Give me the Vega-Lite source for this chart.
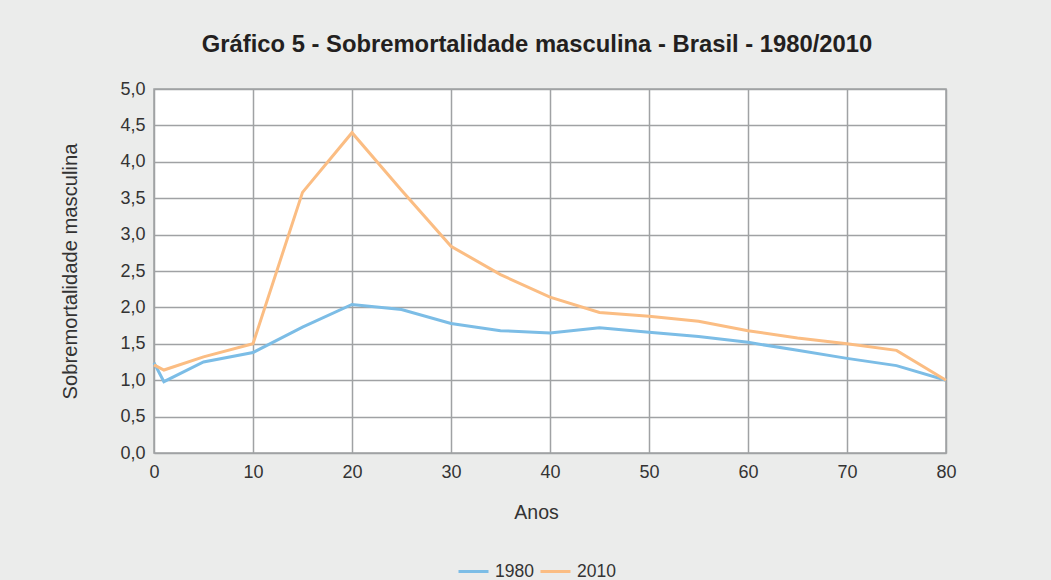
{
  "$schema": "https://vega.github.io/schema/vega-lite/v6.json",
  "width": 792,
  "height": 364,
  "autosize": {"type": "none"},
  "padding": {"left": 154, "top": 89, "right": 105, "bottom": 127},
  "background": "#ebeceb",
  "title": {
    "text": "Gráfico 5 - Sobremortalidade masculina - Brasil - 1980/2010",
    "font": "Liberation Sans",
    "fontSize": 23.8,
    "fontWeight": "bold",
    "color": "#231f20",
    "anchor": "middle",
    "frame": "group",
    "dx": -13,
    "offset": 23
  },
  "data": {
    "values": [
      {"idade": 0, "ano": "1980", "valor": 1.24},
      {"idade": 1, "ano": "1980", "valor": 0.98},
      {"idade": 5, "ano": "1980", "valor": 1.25},
      {"idade": 10, "ano": "1980", "valor": 1.38},
      {"idade": 15, "ano": "1980", "valor": 1.73},
      {"idade": 20, "ano": "1980", "valor": 2.04},
      {"idade": 25, "ano": "1980", "valor": 1.97},
      {"idade": 30, "ano": "1980", "valor": 1.78},
      {"idade": 35, "ano": "1980", "valor": 1.68},
      {"idade": 40, "ano": "1980", "valor": 1.65},
      {"idade": 45, "ano": "1980", "valor": 1.72},
      {"idade": 50, "ano": "1980", "valor": 1.66},
      {"idade": 55, "ano": "1980", "valor": 1.6},
      {"idade": 60, "ano": "1980", "valor": 1.52},
      {"idade": 65, "ano": "1980", "valor": 1.41},
      {"idade": 70, "ano": "1980", "valor": 1.3},
      {"idade": 75, "ano": "1980", "valor": 1.2},
      {"idade": 80, "ano": "1980", "valor": 1.0},
      {"idade": 0, "ano": "2010", "valor": 1.21},
      {"idade": 1, "ano": "2010", "valor": 1.14},
      {"idade": 5, "ano": "2010", "valor": 1.32},
      {"idade": 10, "ano": "2010", "valor": 1.5},
      {"idade": 15, "ano": "2010", "valor": 3.58},
      {"idade": 20, "ano": "2010", "valor": 4.4},
      {"idade": 25, "ano": "2010", "valor": 3.61},
      {"idade": 30, "ano": "2010", "valor": 2.84},
      {"idade": 35, "ano": "2010", "valor": 2.45},
      {"idade": 40, "ano": "2010", "valor": 2.14},
      {"idade": 45, "ano": "2010", "valor": 1.93},
      {"idade": 50, "ano": "2010", "valor": 1.88},
      {"idade": 55, "ano": "2010", "valor": 1.81},
      {"idade": 60, "ano": "2010", "valor": 1.68},
      {"idade": 65, "ano": "2010", "valor": 1.58},
      {"idade": 70, "ano": "2010", "valor": 1.5},
      {"idade": 75, "ano": "2010", "valor": 1.41},
      {"idade": 80, "ano": "2010", "valor": 1.0}
    ]
  },
  "mark": {"type": "line", "strokeWidth": 3, "clip": false},
  "encoding": {
    "x": {
      "field": "idade",
      "type": "quantitative",
      "scale": {"domain": [0, 80], "nice": false, "zero": false},
      "axis": {
        "title": "Anos",
        "values": [0, 10, 20, 30, 40, 50, 60, 70, 80],
        "format": "d",
        "labelFlush": false,
        "labelPadding": 10,
        "titlePadding": 22,
        "titleX": 382
      }
    },
    "y": {
      "field": "valor",
      "type": "quantitative",
      "scale": {"domain": [0, 5], "nice": false},
      "axis": {
        "title": "Sobremortalidade masculina",
        "values": [0, 0.5, 1, 1.5, 2, 2.5, 3, 3.5, 4, 4.5, 5],
        "labelExpr": "replace(format(datum.value, '.1f'), '.', ',')",
        "labelPadding": 9,
        "titlePadding": 39,
        "titleFontSize": 20.2
      }
    },
    "color": {
      "field": "ano",
      "type": "nominal",
      "scale": {"domain": ["1980", "2010"], "range": ["#7cbde6", "#fbbd83"]},
      "legend": {
        "title": null,
        "orient": "none",
        "direction": "horizontal",
        "legendX": 303,
        "legendY": 466,
        "symbolType": "stroke",
        "symbolSize": 900,
        "symbolStrokeWidth": 3,
        "labelFontSize": 17.5,
        "labelFont": "Liberation Sans",
        "labelColor": "#333333",
        "labelOffset": 5,
        "columnPadding": 0
      }
    }
  },
  "config": {
    "view": {"fill": "white", "stroke": "#a0a2a4", "strokeWidth": 1.5},
    "axis": {
      "grid": true,
      "gridColor": "#a0a2a4",
      "gridWidth": 1.5,
      "gridOpacity": 1,
      "ticks": false,
      "domain": false,
      "labelFont": "Liberation Sans",
      "labelFontSize": 18,
      "labelColor": "#333333",
      "titleFont": "Liberation Sans",
      "titleFontSize": 19.5,
      "titleFontWeight": "normal",
      "titleColor": "#333333"
    }
  }
}
